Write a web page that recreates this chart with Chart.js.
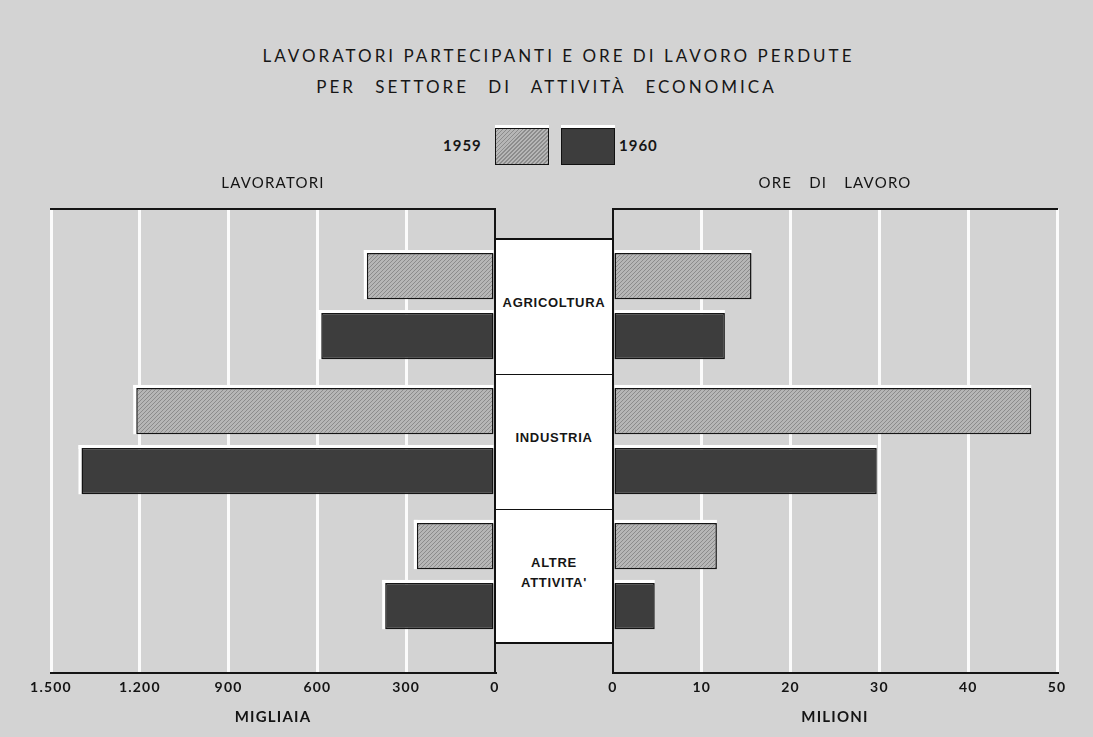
<!DOCTYPE html>
<html lang="it">
<head>
<meta charset="utf-8">
<title>Lavoratori partecipanti e ore di lavoro perdute</title>
<script src="https://cdn.jsdelivr.net/npm/chart.js@4.4.1/dist/chart.umd.min.js"></script>
<style>
  html, body { margin: 0; padding: 0; }
  body {
    width: 1093px; height: 737px; position: relative; overflow: hidden;
    background: #d3d3d3;
    font-family: Lato, "DejaVu Sans", sans-serif; color: #161616;
  }
  #titolo {
    position: absolute; left: 0; top: 40px; width: 1093px;
    text-align: center; font-size: 17px; letter-spacing: 3px; line-height: 31px;
  }
  #titolo .r1 { position: relative; left: 12px; }
  #titolo .r2 { word-spacing: 12px; }
  .anno { position: absolute; top: 136px; font-size: 15px; font-weight: bold; letter-spacing: 1px; }
  .campione {
    position: absolute; top: 128px; width: 52px; height: 35px;
    border: 1.5px solid #111; box-shadow: 0 -3px 0 #fff;
  }
  canvas { position: absolute; top: 165px; }
  #settori {
    position: absolute; background: #fff; box-sizing: border-box;
    border: 2px solid #111; z-index: 2;
  }
  .divisore { position: absolute; left: 0; right: 0; height: 0; border-top: 1.5px solid #111; }
  .settore {
    position: absolute; left: 0; right: 0; text-align: center;
    font-family: "Liberation Sans", Arial, sans-serif; font-weight: bold;
    font-size: 13px; letter-spacing: 0.7px; line-height: 20px;
  }
</style>
</head>
<body>
<div id="titolo"><span class="r1">LAVORATORI PARTECIPANTI E ORE DI LAVORO PERDUTE</span><br><span class="r2">PER SETTORE DI ATTIVITÀ ECONOMICA</span></div>

<div class="anno" style="left:443px">1959</div>
<div class="campione" id="c1959" style="left:495px"></div>
<div class="campione" id="c1960" style="left:561px"></div>
<div class="anno" style="left:619px">1960</div>

<canvas id="lavoratori" width="520" height="565" style="left:0"></canvas>
<canvas id="ore" width="503" height="565" style="left:590px"></canvas>
<div id="settori"></div>

<script>
// settori di attività
const settori = ["AGRICOLTURA", "INDUSTRIA", ["ALTRE", "ATTIVITA'"]];
const anni = ["1959", "1960"];

// lavoratori partecipanti (migliaia)
const lavoratori1959 = [433, 1212, 264];
const lavoratori1960 = [587, 1397, 371];

// ore di lavoro perdute (milioni)
const ore1959 = [15.6, 47.1, 11.7];
const ore1960 = [12.6, 29.7, 4.7];

// etichette degli assi
const tickLavoratori = ["0", "300", "600", "900", "1.200", "1.500"];
const tickOre = ["0", "10", "20", "30", "40", "50"];

const NERO = "#141414";
const SCURO = "#3d3d3d";

// tratteggio diagonale per il 1959
function tratteggio() {
    const c = document.createElement("canvas");
    c.width = 4; c.height = 4;
    const g = c.getContext("2d");
    g.fillStyle = "#b6b6b6";
    g.fillRect(0, 0, 4, 4);
    g.strokeStyle = "#8c8c8c";
    g.lineWidth = 1;
    g.beginPath();
    g.moveTo(0, 4); g.lineTo(4, 0);
    g.moveTo(-1, 1); g.lineTo(1, -1);
    g.moveTo(3, 5); g.lineTo(5, 3);
    g.stroke();
    return g.createPattern(c, "repeat");
}
const chiaro = tratteggio();

document.getElementById("c1959").style.background =
    "repeating-linear-gradient(135deg, #b6b6b6 0 1.6px, #8c8c8c 1.6px 2.8px)";
document.getElementById("c1960").style.background = SCURO;

// bordo bianco sopra le barre (e sul lato esterno a sinistra)
const alone = {
    id: "alone",
    beforeDatasetsDraw(chart) {
        const ctx = chart.ctx;
        ctx.save();
        ctx.fillStyle = "#fff";
        chart.data.datasets.forEach((ds, i) => {
            chart.getDatasetMeta(i).data.forEach(bar => {
                const { x, y, base, height } = bar.getProps(["x", "y", "base", "height"], true);
                const l = Math.min(x, base), r = Math.max(x, base), t = y - height / 2;
                if (x < base) {
                    ctx.fillRect(l - 3, t - 3, r - l + 3, 4);
                    ctx.fillRect(l - 3, t - 3, 4, height + 3);
                } else {
                    ctx.fillRect(l, t - 3, r - l, 4);
                }
            });
        });
        ctx.restore();
    }
};

const spaziatura = {
    id: "spaziatura",
    beforeDraw(chart) {
        chart.ctx.letterSpacing = "1.2px";
        chart.ctx.wordSpacing = "12px";
    }
};

function punti(valori) {
    return valori.map((v, i) => ({ x: v, y: i }));
}

function grafico(id, titolo, unita, serie, massimo, passo, etichette, sinistra) {
    const carattere = { family: "Lato", size: 14, weight: "bold" };
    return new Chart(document.getElementById(id), {
        type: "bar",
        data: {
            labels: settori,
            datasets: [
                { label: anni[0], data: punti(serie[0]), backgroundColor: chiaro,
                  borderColor: NERO, borderWidth: 1.5, borderSkipped: false },
                { label: anni[1], data: punti(serie[1]), backgroundColor: SCURO,
                  borderColor: NERO, borderWidth: 1.5, borderSkipped: false }
            ]
        },
        options: {
            indexAxis: "y",
            responsive: false,
            animation: false,
            devicePixelRatio: 1,
            categoryPercentage: 0.89,
            barPercentage: 0.77,
            layout: { padding: sinistra ? { left: 51, right: 25, top: 0, bottom: 4 }
                                        : { left: 23, right: 36, top: 0, bottom: 4 } },
            plugins: {
                legend: { display: false },
                tooltip: { enabled: false },
                title: { display: true, text: titolo, color: NERO,
                         font: { family: "Lato", size: 15, weight: "normal" },
                         padding: { top: 9, bottom: 17 } }
            },
            scales: {
                x: {
                    type: "linear", reverse: sinistra, min: 0, max: massimo,
                    ticks: { stepSize: passo, color: NERO, font: carattere, padding: 6,
                             callback: v => etichette[Math.round(v / passo)] },
                    grid: { lineWidth: 3, drawTicks: false,
                            color: c => (c.tick && c.tick.value === 0) ? "rgba(0,0,0,0)" : "#fbfbfb" },
                    border: { display: true, color: NERO, width: 2 },
                    title: { display: true, text: unita, color: NERO,
                             font: { family: "Lato", size: 15, weight: "bold" },
                             padding: { top: 6, bottom: 0 } }
                },
                xTop: {
                    type: "linear", position: "top", reverse: sinistra, min: 0, max: massimo,
                    ticks: { display: false },
                    grid: { display: false, drawTicks: false },
                    border: { display: true, color: NERO, width: 2 }
                },
                y: {
                    type: "linear", position: sinistra ? "right" : "left", reverse: true,
                    min: -0.72, max: 2.72, offset: false,
                    ticks: { display: false, stepSize: 1, includeBounds: false },
                    grid: { display: false, drawTicks: false, offset: false },
                    border: { display: true, color: NERO, width: 2 }
                }
            }
        },
        plugins: [spaziatura, alone]
    });
}

const graficoLavoratori = grafico("lavoratori", "LAVORATORI", "MIGLIAIA",
    [lavoratori1959, lavoratori1960], 1500, 300, tickLavoratori, true);
const graficoOre = grafico("ore", "ORE DI LAVORO", "MILIONI",
    [ore1959, ore1960], 50, 10, tickOre, false);

// riquadro centrale con i nomi dei settori
(function () {
    const y = graficoLavoratori.scales.y;
    const top0 = 165;
    const sx = graficoLavoratori.chartArea.right;
    const dx = 590 + graficoOre.chartArea.left;
    const alto = top0 + y.getPixelForValue(-0.5);
    const basso = top0 + y.getPixelForValue(settori.length - 0.5);
    const box = document.getElementById("settori");
    box.style.left = (sx - 1) + "px";
    box.style.width = (dx - sx + 2) + "px";
    box.style.top = (alto - 1) + "px";
    box.style.height = (basso - alto + 2) + "px";
    settori.forEach((s, i) => {
        if (i > 0) {
            const d = document.createElement("div");
            d.className = "divisore";
            d.style.top = (top0 + y.getPixelForValue(i - 0.5) - alto - 1) + "px";
            box.appendChild(d);
        }
        const righe = Array.isArray(s) ? s : [s];
        const t = document.createElement("div");
        t.className = "settore";
        t.innerHTML = righe.join("<br>");
        const centro = top0 + y.getPixelForValue(i) - alto - 4;
        t.style.top = (centro - righe.length * 10) + "px";
        box.appendChild(t);
    });
})();
</script>
</body>
</html>
